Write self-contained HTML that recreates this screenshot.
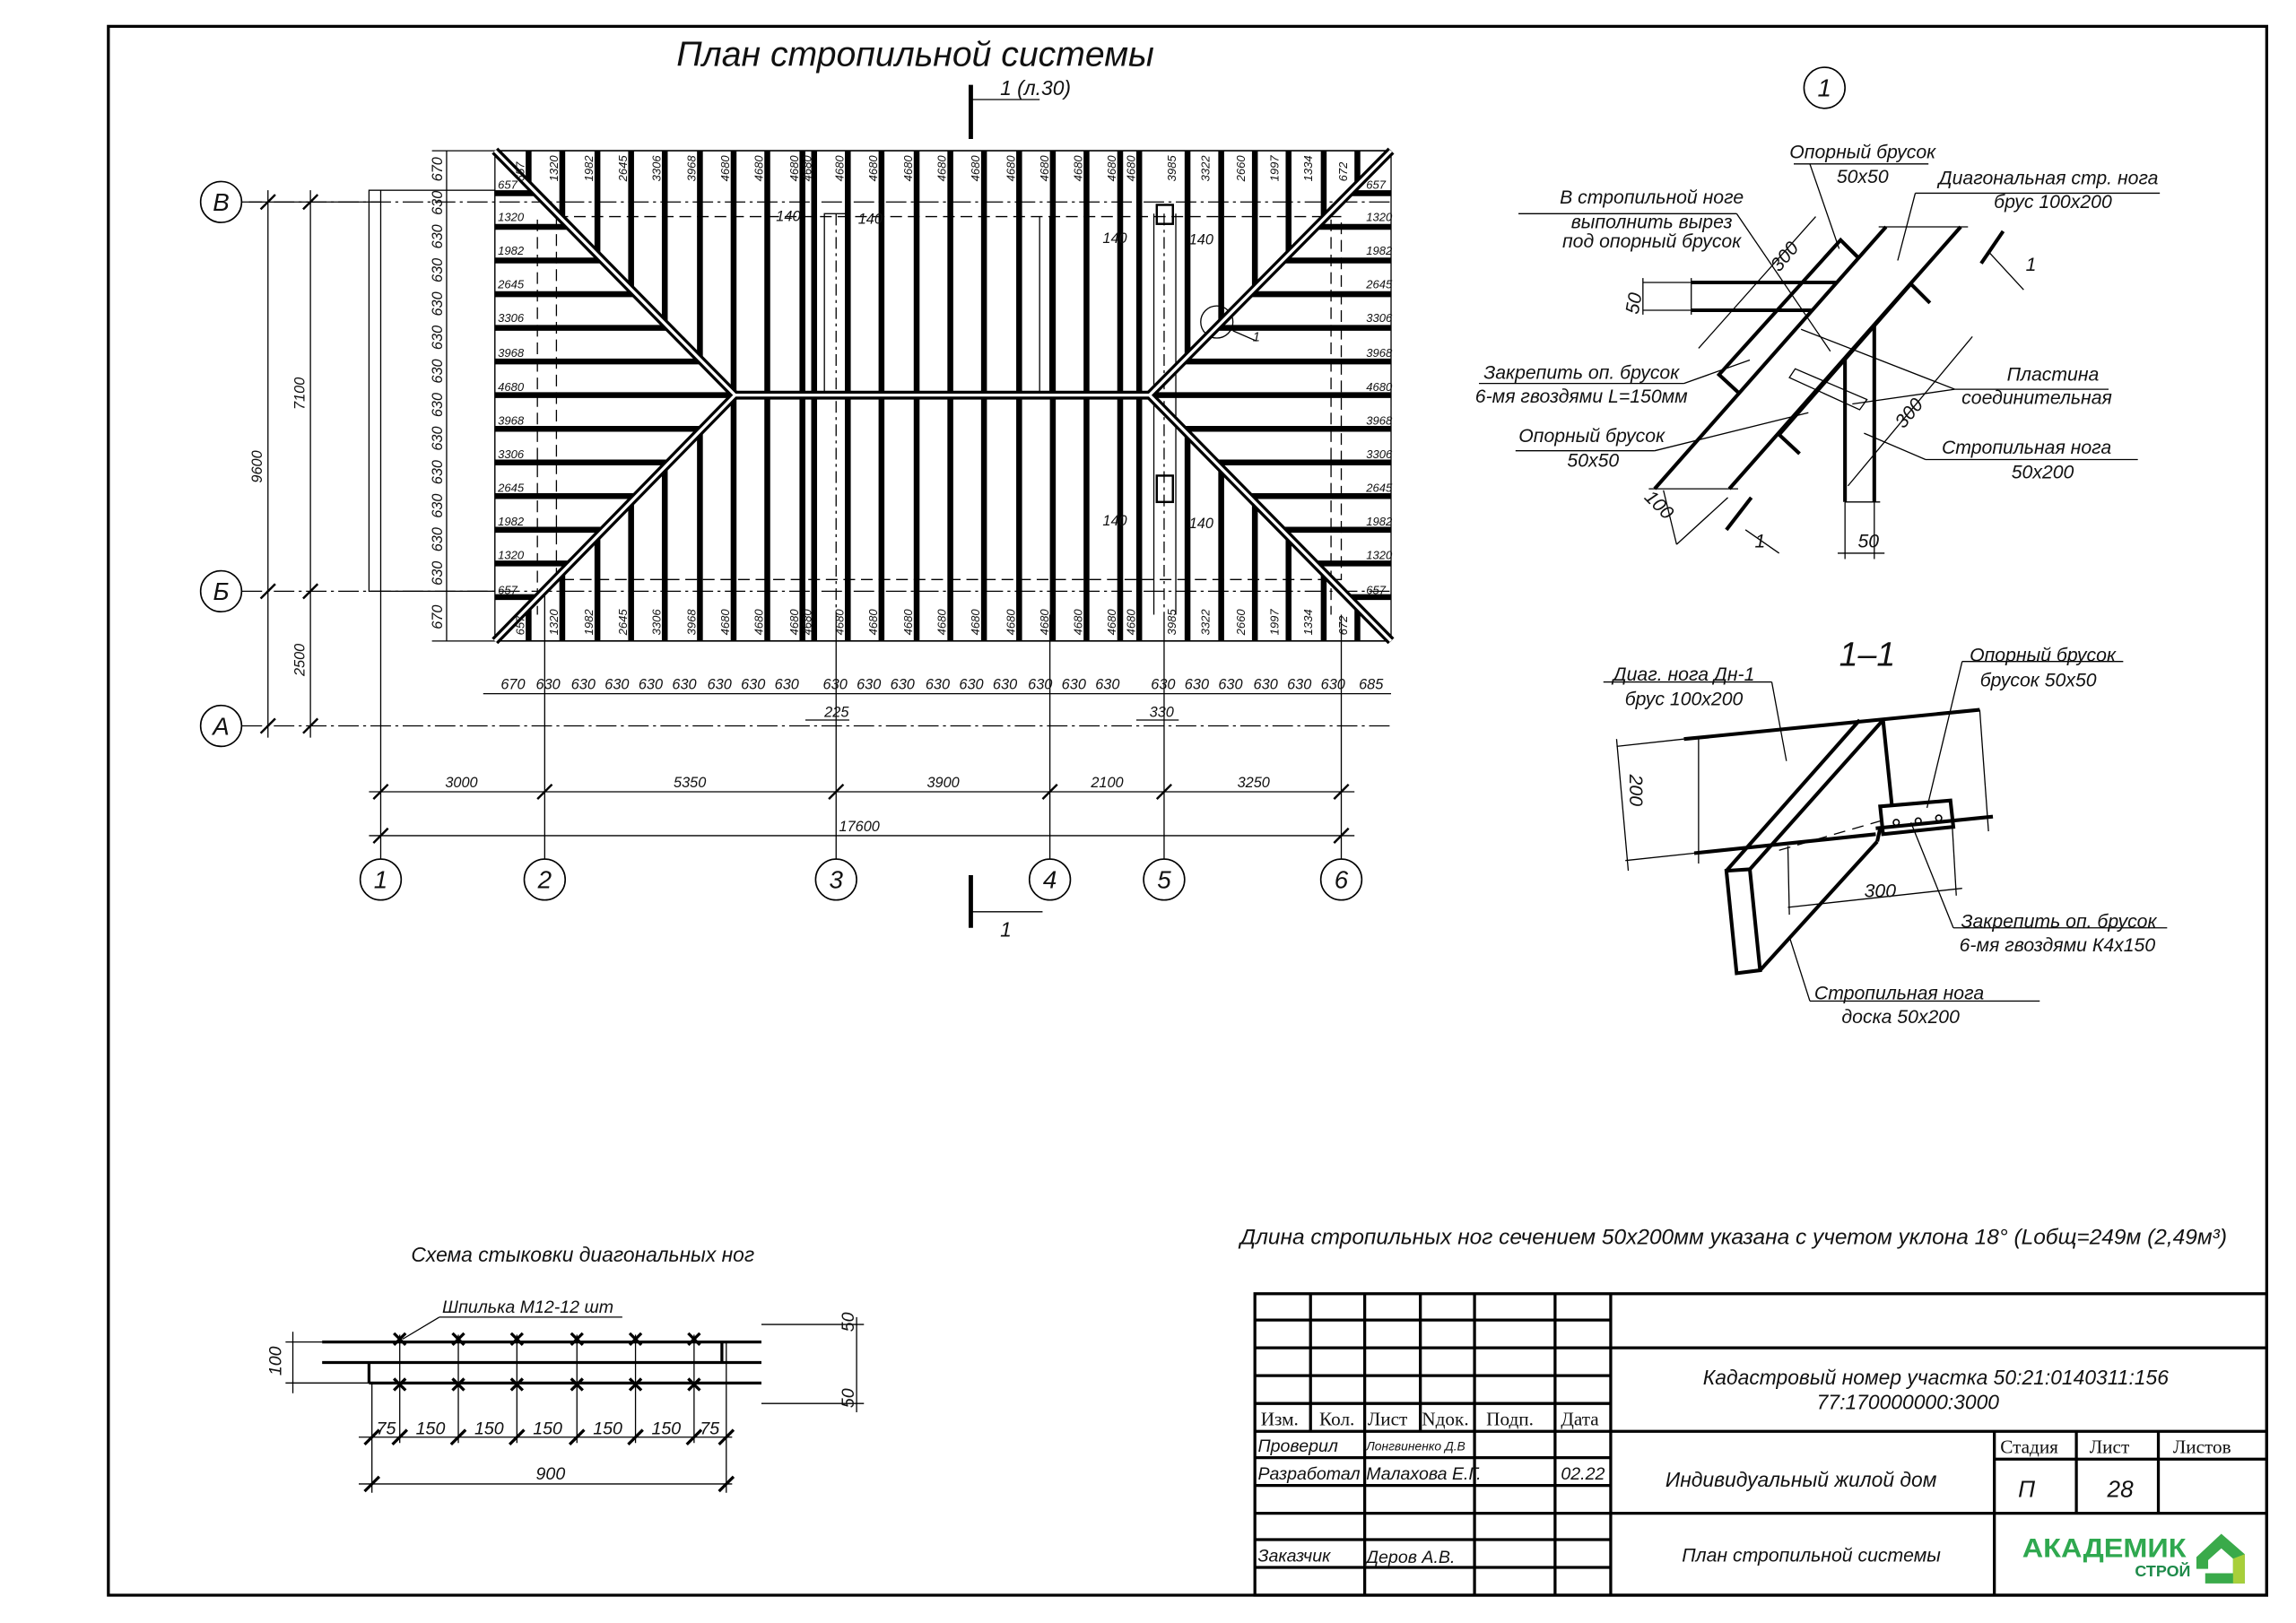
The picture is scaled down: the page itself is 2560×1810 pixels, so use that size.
<!DOCTYPE html>
<html><head><meta charset="utf-8"><style>
html,body{margin:0;padding:0;background:#fff}
svg{display:block}
text{font-family:"Liberation Sans","DejaVu Sans",sans-serif;font-style:italic;fill:#111}
.t{font-style:normal;font-family:"Liberation Serif",serif}
</style></head><body>
<svg width="2560" height="1810" viewBox="0 0 1568 1109" preserveAspectRatio="none" xmlns="http://www.w3.org/2000/svg">
<rect x="0" y="0" width="1568" height="1109" fill="#fff"/>
<rect x="74" y="18" width="1474" height="1072" fill="none" stroke="#000" stroke-width="2"/>
<text x="462" y="45" font-size="24">План стропильной системы</text>

<line x1="663" y1="58" x2="663" y2="95" stroke="#000" stroke-width="3"/>
<line x1="663" y1="68" x2="710" y2="68" stroke="#000" stroke-width="0.8"/>
<text x="683" y="65" font-size="14">1 (л.30)</text>
<line x1="663" y1="598" x2="663" y2="634" stroke="#000" stroke-width="3"/>
<line x1="663" y1="623" x2="712" y2="623" stroke="#000" stroke-width="0.8"/>
<text x="683" y="640" font-size="14">1</text>

<g stroke="#000" stroke-width="0.8" fill="none">
<line x1="165" y1="138" x2="950" y2="138" stroke-dasharray="14 3 2 3"/>
<line x1="165" y1="404" x2="950" y2="404" stroke-dasharray="14 3 2 3"/>
<line x1="165" y1="496" x2="950" y2="496" stroke-dasharray="14 3 2 3"/>
<line x1="260" y1="130" x2="260" y2="587"/>
<line x1="372" y1="400" x2="372" y2="587"/>
<line x1="571" y1="420" x2="571" y2="587"/>
<line x1="717" y1="420" x2="717" y2="587"/>
<line x1="795" y1="420" x2="795" y2="587"/>
<line x1="916" y1="420" x2="916" y2="587"/>
<rect x="252" y="130" width="86" height="274"/>
<rect x="380" y="148" width="536" height="248" stroke-dasharray="8 4"/>
<line x1="367" y1="150" x2="367" y2="420" stroke-dasharray="8 4"/>
<line x1="909" y1="150" x2="909" y2="420" stroke-dasharray="8 4"/>
<rect x="563" y="146" width="16" height="125"/>
<line x1="571" y1="146" x2="571" y2="420" stroke-dasharray="8 3 2 3"/>
<line x1="795" y1="146" x2="795" y2="420" stroke-dasharray="8 3 2 3"/>
<line x1="788" y1="146" x2="788" y2="420"/>
<line x1="803" y1="146" x2="803" y2="420"/>
<line x1="710" y1="148" x2="710" y2="270"/>
<line x1="717" y1="148" x2="717" y2="270"/>
<rect x="790" y="140" width="11" height="13" stroke-width="1.5"/>
<rect x="790" y="325" width="11" height="18" stroke-width="1.5"/>
<circle cx="831" cy="220" r="11"/>
<line x1="842" y1="226" x2="858" y2="233"/>
<line x1="183" y1="130" x2="183" y2="504"/>
<line x1="212" y1="130" x2="212" y2="504"/>
<line x1="170" y1="138" x2="260" y2="138"/>
<line x1="305" y1="103" x2="305" y2="438"/>
<line x1="295" y1="103" x2="338" y2="103"/>
<line x1="295" y1="438" x2="338" y2="438"/>
<line x1="330" y1="474" x2="950" y2="474"/>
<line x1="252" y1="541" x2="925" y2="541"/>
<line x1="252" y1="571" x2="925" y2="571"/>
<line x1="550" y1="492" x2="580" y2="492"/>
<line x1="776" y1="492" x2="805" y2="492"/>
</g>
<g stroke="#000" stroke-width="1.5">
<line x1="178" y1="143" x2="188" y2="133"/><line x1="178" y1="409" x2="188" y2="399"/><line x1="178" y1="501" x2="188" y2="491"/>
<line x1="207" y1="143" x2="217" y2="133"/><line x1="207" y1="409" x2="217" y2="399"/><line x1="207" y1="501" x2="217" y2="491"/>
<line x1="255" y1="546" x2="265" y2="536"/><line x1="367" y1="546" x2="377" y2="536"/><line x1="566" y1="546" x2="576" y2="536"/><line x1="712" y1="546" x2="722" y2="536"/><line x1="790" y1="546" x2="800" y2="536"/><line x1="911" y1="546" x2="921" y2="536"/>
<line x1="255" y1="576" x2="265" y2="566"/><line x1="911" y1="576" x2="921" y2="566"/>
</g>
<g font-size="10">
<text transform="translate(179,330) rotate(-90)">9600</text>
<text transform="translate(208,280) rotate(-90)">7100</text>
<text transform="translate(208,462) rotate(-90)">2500</text>
<text x="304" y="538">3000</text><text x="460" y="538">5350</text><text x="633" y="538">3900</text><text x="745" y="538">2100</text><text x="845" y="538">3250</text>
<text x="573" y="568">17600</text>
<text x="563" y="490">225</text><text x="785" y="490">330</text>
</g>
<g fill="#fff" stroke="#000" stroke-width="1">
<circle cx="151" cy="138" r="14"/><circle cx="151" cy="404" r="14"/><circle cx="151" cy="496" r="14"/>
<circle cx="260" cy="601" r="14"/><circle cx="372" cy="601" r="14"/><circle cx="571" cy="601" r="14"/><circle cx="717" cy="601" r="14"/><circle cx="795" cy="601" r="14"/><circle cx="916" cy="601" r="14"/>
<circle cx="1246" cy="60" r="14"/>
</g>
<g font-size="17" text-anchor="middle">
<text x="151" y="144">В</text><text x="151" y="410">Б</text><text x="151" y="502">А</text>
<text x="260" y="607">1</text><text x="372" y="607">2</text><text x="571" y="607">3</text><text x="717" y="607">4</text><text x="795" y="607">5</text><text x="916" y="607">6</text>
<text x="1246" y="66">1</text>
</g>

<g stroke="#000" fill="none">
<line x1="338" y1="103" x2="950" y2="103" stroke-width="1"/>
<line x1="338" y1="438" x2="950" y2="438" stroke-width="1"/>
<line x1="338" y1="103" x2="338" y2="438" stroke-width="0.8"/>
<line x1="950" y1="103" x2="950" y2="438" stroke-width="0.8"/>
<g stroke-width="4">
<line x1="338" y1="270" x2="950" y2="270"/>
<line x1="361" y1="103" x2="361" y2="126"/><line x1="361" y1="415" x2="361" y2="438"/>
<line x1="384" y1="103" x2="384" y2="150"/><line x1="384" y1="391" x2="384" y2="438"/>
<line x1="408" y1="103" x2="408" y2="174"/><line x1="408" y1="367" x2="408" y2="438"/>
<line x1="431" y1="103" x2="431" y2="198"/><line x1="431" y1="343" x2="431" y2="438"/>
<line x1="454" y1="103" x2="454" y2="221"/><line x1="454" y1="320" x2="454" y2="438"/>
<line x1="478" y1="103" x2="478" y2="246"/><line x1="478" y1="295" x2="478" y2="438"/>
<line x1="927" y1="103" x2="927" y2="126"/><line x1="927" y1="415" x2="927" y2="438"/>
<line x1="904" y1="103" x2="904" y2="150"/><line x1="904" y1="391" x2="904" y2="438"/>
<line x1="880" y1="103" x2="880" y2="174"/><line x1="880" y1="367" x2="880" y2="438"/>
<line x1="857" y1="103" x2="857" y2="198"/><line x1="857" y1="343" x2="857" y2="438"/>
<line x1="834" y1="103" x2="834" y2="221"/><line x1="834" y1="320" x2="834" y2="438"/>
<line x1="811" y1="103" x2="811" y2="245"/><line x1="811" y1="296" x2="811" y2="438"/>
<line x1="501" y1="103" x2="501" y2="438"/><line x1="524" y1="103" x2="524" y2="438"/><line x1="548" y1="103" x2="548" y2="438"/><line x1="556" y1="103" x2="556" y2="438"/>
<line x1="579" y1="103" x2="579" y2="438"/><line x1="602" y1="103" x2="602" y2="438"/><line x1="626" y1="103" x2="626" y2="438"/><line x1="649" y1="103" x2="649" y2="438"/>
<line x1="672" y1="103" x2="672" y2="438"/><line x1="696" y1="103" x2="696" y2="438"/><line x1="719" y1="103" x2="719" y2="438"/><line x1="742" y1="103" x2="742" y2="438"/>
<line x1="765" y1="103" x2="765" y2="438"/><line x1="778" y1="103" x2="778" y2="438"/>
<line x1="338" y1="132" x2="366" y2="132"/><line x1="338" y1="155" x2="389" y2="155"/><line x1="338" y1="178" x2="412" y2="178"/><line x1="338" y1="201" x2="434" y2="201"/><line x1="338" y1="224" x2="457" y2="224"/><line x1="338" y1="247" x2="479" y2="247"/>
<line x1="338" y1="293" x2="480" y2="293"/><line x1="338" y1="316" x2="458" y2="316"/><line x1="338" y1="339" x2="435" y2="339"/><line x1="338" y1="362" x2="413" y2="362"/><line x1="338" y1="385" x2="390" y2="385"/><line x1="338" y1="408" x2="367" y2="408"/>
<line x1="922" y1="132" x2="950" y2="132"/><line x1="899" y1="155" x2="950" y2="155"/><line x1="876" y1="178" x2="950" y2="178"/><line x1="854" y1="201" x2="950" y2="201"/><line x1="831" y1="224" x2="950" y2="224"/><line x1="809" y1="247" x2="950" y2="247"/>
<line x1="808" y1="293" x2="950" y2="293"/><line x1="830" y1="316" x2="950" y2="316"/><line x1="853" y1="339" x2="950" y2="339"/><line x1="875" y1="362" x2="950" y2="362"/><line x1="898" y1="385" x2="950" y2="385"/><line x1="921" y1="408" x2="950" y2="408"/>
</g>
<g stroke-width="6"><polyline points="338,103 502,270 338,438"/><polyline points="950,103 785,270 950,438"/><line x1="502" y1="270" x2="785" y2="270"/></g>
<g stroke="#fff" stroke-width="2"><polyline points="338,103 502,270 338,438"/><polyline points="950,103 785,270 950,438"/><line x1="502" y1="270" x2="785" y2="270"/></g>
</g>
<g font-size="8">
<text x="340" y="129">657</text><text x="340" y="151">1320</text><text x="340" y="174">1982</text><text x="340" y="197">2645</text><text x="340" y="220">3306</text><text x="340" y="244">3968</text><text x="340" y="267">4680</text><text x="340" y="290">3968</text><text x="340" y="313">3306</text><text x="340" y="336">2645</text><text x="340" y="359">1982</text><text x="340" y="382">1320</text><text x="340" y="406">657</text>
<text x="933" y="129">657</text><text x="933" y="151">1320</text><text x="933" y="174">1982</text><text x="933" y="197">2645</text><text x="933" y="220">3306</text><text x="933" y="244">3968</text><text x="933" y="267">4680</text><text x="933" y="290">3968</text><text x="933" y="313">3306</text><text x="933" y="336">2645</text><text x="933" y="359">1982</text><text x="933" y="382">1320</text><text x="933" y="406">657</text>
</g>
<g font-size="8">
<text transform="translate(358,124) rotate(-90)">657</text><text transform="translate(381,124) rotate(-90)">1320</text><text transform="translate(405,124) rotate(-90)">1982</text><text transform="translate(428,124) rotate(-90)">2645</text><text transform="translate(451,124) rotate(-90)">3306</text><text transform="translate(475,124) rotate(-90)">3968</text><text transform="translate(498,124) rotate(-90)">4680</text><text transform="translate(521,124) rotate(-90)">4680</text><text transform="translate(545,124) rotate(-90)">4680</text><text transform="translate(554,124) rotate(-90)">4680</text><text transform="translate(576,124) rotate(-90)">4680</text><text transform="translate(599,124) rotate(-90)">4680</text><text transform="translate(623,124) rotate(-90)">4680</text><text transform="translate(646,124) rotate(-90)">4680</text><text transform="translate(669,124) rotate(-90)">4680</text><text transform="translate(693,124) rotate(-90)">4680</text><text transform="translate(716,124) rotate(-90)">4680</text><text transform="translate(739,124) rotate(-90)">4680</text><text transform="translate(762,124) rotate(-90)">4680</text><text transform="translate(775,124) rotate(-90)">4680</text><text transform="translate(803,124) rotate(-90)">3985</text><text transform="translate(826,124) rotate(-90)">3322</text><text transform="translate(850,124) rotate(-90)">2660</text><text transform="translate(873,124) rotate(-90)">1997</text><text transform="translate(896,124) rotate(-90)">1334</text><text transform="translate(920,124) rotate(-90)">672</text>
<text transform="translate(358,434) rotate(-90)">657</text><text transform="translate(381,434) rotate(-90)">1320</text><text transform="translate(405,434) rotate(-90)">1982</text><text transform="translate(428,434) rotate(-90)">2645</text><text transform="translate(451,434) rotate(-90)">3306</text><text transform="translate(475,434) rotate(-90)">3968</text><text transform="translate(498,434) rotate(-90)">4680</text><text transform="translate(521,434) rotate(-90)">4680</text><text transform="translate(545,434) rotate(-90)">4680</text><text transform="translate(554,434) rotate(-90)">4680</text><text transform="translate(576,434) rotate(-90)">4680</text><text transform="translate(599,434) rotate(-90)">4680</text><text transform="translate(623,434) rotate(-90)">4680</text><text transform="translate(646,434) rotate(-90)">4680</text><text transform="translate(669,434) rotate(-90)">4680</text><text transform="translate(693,434) rotate(-90)">4680</text><text transform="translate(716,434) rotate(-90)">4680</text><text transform="translate(739,434) rotate(-90)">4680</text><text transform="translate(762,434) rotate(-90)">4680</text><text transform="translate(775,434) rotate(-90)">4680</text><text transform="translate(803,434) rotate(-90)">3985</text><text transform="translate(826,434) rotate(-90)">3322</text><text transform="translate(850,434) rotate(-90)">2660</text><text transform="translate(873,434) rotate(-90)">1997</text><text transform="translate(896,434) rotate(-90)">1334</text><text transform="translate(920,434) rotate(-90)">672</text>
</g>
<g font-size="10">
<text transform="translate(302,124) rotate(-90)">670</text><text transform="translate(302,147) rotate(-90)">630</text><text transform="translate(302,170) rotate(-90)">630</text><text transform="translate(302,193) rotate(-90)">630</text><text transform="translate(302,216) rotate(-90)">630</text><text transform="translate(302,239) rotate(-90)">630</text><text transform="translate(302,262) rotate(-90)">630</text><text transform="translate(302,285) rotate(-90)">630</text><text transform="translate(302,308) rotate(-90)">630</text><text transform="translate(302,331) rotate(-90)">630</text><text transform="translate(302,354) rotate(-90)">630</text><text transform="translate(302,377) rotate(-90)">630</text><text transform="translate(302,400) rotate(-90)">630</text><text transform="translate(302,430) rotate(-90)">670</text>
<text x="342" y="471">670</text><text x="366" y="471">630</text><text x="390" y="471">630</text><text x="413" y="471">630</text><text x="436" y="471">630</text><text x="459" y="471">630</text><text x="483" y="471">630</text><text x="506" y="471">630</text><text x="529" y="471">630</text><text x="562" y="471">630</text><text x="585" y="471">630</text><text x="608" y="471">630</text><text x="632" y="471">630</text><text x="655" y="471">630</text><text x="678" y="471">630</text><text x="702" y="471">630</text><text x="725" y="471">630</text><text x="748" y="471">630</text><text x="786" y="471">630</text><text x="809" y="471">630</text><text x="832" y="471">630</text><text x="856" y="471">630</text><text x="879" y="471">630</text><text x="902" y="471">630</text><text x="928" y="471">685</text>
<text x="530" y="151">140</text><text x="586" y="153">140</text><text x="753" y="166">140</text><text x="812" y="167">140</text><text x="753" y="359">140</text><text x="812" y="361">140</text>
</g>

<g stroke="#000" fill="none">
<g stroke-width="2.5">
<line x1="1130" y1="334" x2="1288" y2="155"/><line x1="1181" y1="334" x2="1339" y2="155"/>
<polyline points="1269,176 1257,164 1174,256 1188,269"/>
<polyline points="1318,207 1305,194 1215,297 1229,310"/>
<line x1="1155" y1="193" x2="1255" y2="193"/><line x1="1155" y1="212" x2="1238" y2="212"/>
<line x1="1260" y1="245" x2="1260" y2="343"/><line x1="1280" y1="223" x2="1280" y2="343"/>
<line x1="1353" y1="180" x2="1368" y2="158"/><line x1="1179" y1="362" x2="1196" y2="340"/>
</g>
<g stroke-width="0.8">
<line x1="1283" y1="155" x2="1344" y2="155"/><line x1="1126" y1="334" x2="1187" y2="334"/>
<line x1="1155" y1="190" x2="1155" y2="215"/><line x1="1260" y1="343" x2="1284" y2="343"/>
<line x1="1240" y1="148" x2="1160" y2="238"/><line x1="1347" y1="230" x2="1262" y2="332"/>
<line x1="1122" y1="190" x2="1122" y2="215"/><line x1="1122" y1="193" x2="1155" y2="193"/><line x1="1122" y1="212" x2="1155" y2="212"/>
<line x1="1136" y1="335" x2="1145" y2="372"/><line x1="1180" y1="340" x2="1145" y2="372"/>
<line x1="1260" y1="343" x2="1260" y2="382"/><line x1="1280" y1="343" x2="1280" y2="382"/><line x1="1255" y1="378" x2="1287" y2="378"/>
<line x1="1037" y1="146" x2="1186" y2="146"/><line x1="1186" y1="146" x2="1250" y2="240"/>
<line x1="1225" y1="112" x2="1317" y2="112"/><line x1="1236" y1="112" x2="1256" y2="170"/>
<line x1="1308" y1="132" x2="1475" y2="132"/><line x1="1308" y1="132" x2="1296" y2="178"/>
<line x1="1010" y1="262" x2="1150" y2="262"/><line x1="1150" y1="262" x2="1195" y2="246"/>
<line x1="1035" y1="308" x2="1130" y2="308"/><line x1="1130" y1="308" x2="1235" y2="282"/>
<line x1="1335" y1="266" x2="1440" y2="266"/><line x1="1335" y1="266" x2="1230" y2="225"/><line x1="1335" y1="266" x2="1265" y2="276"/>
<line x1="1315" y1="314" x2="1460" y2="314"/><line x1="1315" y1="314" x2="1273" y2="296"/>
<line x1="1358" y1="172" x2="1382" y2="198"/><line x1="1192" y1="362" x2="1215" y2="378"/>
</g>
<polygon points="1222,258 1226,252 1275,273 1270,280" stroke-width="0.8"/>
</g>
<g font-size="13" text-anchor="middle">
<text x="1272" y="108">Опорный брусок</text><text x="1272" y="125">50х50</text>
<text x="1399" y="126">Диагональная стр. нога</text><text x="1402" y="142">брус 100х200</text>
<text x="1128" y="139">В стропильной ноге</text><text x="1128" y="156">выполнить вырез</text><text x="1128" y="169">под опорный брусок</text>
<text x="1080" y="259">Закрепить оп. брусок</text><text x="1080" y="275">6-мя гвоздями L=150мм</text>
<text x="1087" y="302">Опорный брусок</text><text x="1088" y="319">50х50</text>
<text x="1402" y="260">Пластина</text><text x="1391" y="276">соединительная</text>
<text x="1384" y="310">Стропильная нога</text><text x="1395" y="327">50х200</text>
<text transform="translate(1222,178) rotate(-50)">300</text><text transform="translate(1307,285) rotate(-50)">300</text>
<text transform="translate(1120,208) rotate(-80)">50</text><text transform="translate(1130,348) rotate(45)">100</text><text x="1276" y="374">50</text>
<text x="1387" y="185">1</text><text x="1202" y="374">1</text><text x="858" y="233" font-size="9">1</text>
</g>

<text x="1256" y="455" font-size="23">1–1</text>
<g stroke="#000" fill="none">
<g stroke-width="2.5">
<line x1="1150" y1="505" x2="1352" y2="485"/>
<line x1="1157" y1="583" x2="1281" y2="570"/><line x1="1281" y1="566" x2="1361" y2="558"/>
<line x1="1179" y1="595" x2="1270" y2="492"/><line x1="1195" y1="594" x2="1286" y2="492"/>
<line x1="1286" y1="492" x2="1292" y2="550"/>
<polygon points="1284,551 1332,547 1334,565 1286,570"/>
<polygon points="1179,595 1195,594 1202,663 1186,665"/>
<line x1="1202" y1="663" x2="1282" y2="575"/><line x1="1282" y1="575" x2="1284" y2="566"/>
</g>
<g stroke-width="0.8">
<line x1="1104" y1="510" x2="1150" y2="505"/><line x1="1110" y1="588" x2="1157" y2="583"/>
<line x1="1104" y1="505" x2="1112" y2="595"/>
<line x1="1221" y1="620" x2="1340" y2="607"/><line x1="1221" y1="578" x2="1222" y2="625"/><line x1="1333" y1="560" x2="1336" y2="612"/>
<line x1="1160" y1="505" x2="1160" y2="590"/><line x1="1352" y1="485" x2="1358" y2="568"/>
<line x1="1095" y1="466" x2="1210" y2="466"/><line x1="1210" y1="466" x2="1220" y2="520"/>
<line x1="1340" y1="452" x2="1450" y2="452"/><line x1="1340" y1="452" x2="1316" y2="552"/>
<line x1="1334" y1="634" x2="1480" y2="634"/><line x1="1334" y1="634" x2="1305" y2="562"/>
<line x1="1236" y1="684" x2="1393" y2="684"/><line x1="1236" y1="684" x2="1222" y2="640"/>
<line x1="1215" y1="581" x2="1284" y2="561" stroke-dasharray="8 5"/>
</g>
<g stroke-width="1"><circle cx="1295" cy="562" r="2"/><circle cx="1310" cy="561" r="2"/><circle cx="1324" cy="559" r="2"/></g>
</g>
<g font-size="13" text-anchor="middle">
<text x="1150" y="465">Диаг. нога Дн-1</text><text x="1150" y="482">брус 100х200</text>
<text x="1395" y="452">Опорный брусок</text><text x="1392" y="469">брусок 50х50</text>
<text x="1406" y="634">Закрепить оп. брусок</text><text x="1405" y="650">6-мя гвоздями К4х150</text>
<text x="1297" y="683">Стропильная нога</text><text x="1298" y="699">доска 50х200</text>
<text x="1284" y="613">300</text><text transform="translate(1113,540) rotate(90)">200</text>
</g>

<text x="398" y="862" font-size="14" text-anchor="middle">Схема стыковки диагональных ног</text>
<g stroke="#000" fill="none">
<g stroke-width="2"><line x1="220" y1="917" x2="520" y2="917"/><line x1="220" y1="931" x2="520" y2="931"/><line x1="252" y1="945" x2="520" y2="945"/><line x1="252" y1="931" x2="252" y2="945"/><line x1="493" y1="917" x2="493" y2="931"/></g>
<g stroke-width="0.8"><line x1="195" y1="917" x2="220" y2="917"/><line x1="195" y1="945" x2="252" y2="945"/><line x1="200" y1="910" x2="200" y2="952"/>
<line x1="520" y1="905" x2="590" y2="905"/><line x1="520" y1="959" x2="590" y2="959"/><line x1="585" y1="900" x2="585" y2="965"/>
<line x1="245" y1="982" x2="500" y2="982"/><line x1="245" y1="1014" x2="500" y2="1014"/>
<line x1="254" y1="945" x2="254" y2="1020"/><line x1="496" y1="917" x2="496" y2="1020"/>
<line x1="300" y1="900" x2="425" y2="900"/><line x1="300" y1="900" x2="275" y2="915"/>
<line x1="273" y1="912" x2="273" y2="986"/><line x1="313" y1="912" x2="313" y2="986"/><line x1="353" y1="912" x2="353" y2="986"/><line x1="394" y1="912" x2="394" y2="986"/><line x1="434" y1="912" x2="434" y2="986"/><line x1="474" y1="912" x2="474" y2="986"/></g>
<g stroke-width="2">
<path d="M269,911l8,8M277,911l-8,8M309,911l8,8M317,911l-8,8M349,911l8,8M357,911l-8,8M390,911l8,8M398,911l-8,8M430,911l8,8M438,911l-8,8M470,911l8,8M478,911l-8,8"/>
<path d="M269,942l8,8M277,942l-8,8M309,942l8,8M317,942l-8,8M349,942l8,8M357,942l-8,8M390,942l8,8M398,942l-8,8M430,942l8,8M438,942l-8,8M470,942l8,8M478,942l-8,8"/>
<path d="M249,987l10,-10M268,987l10,-10M308,987l10,-10M348,987l10,-10M389,987l10,-10M429,987l10,-10M469,987l10,-10M491,987l10,-10M249,1019l10,-10M491,1019l10,-10"/>
</g></g>
<g font-size="12">
<text x="302" y="897">Шпилька М12-12 шт</text>
<text x="257" y="980">75</text><text x="284" y="980">150</text><text x="324" y="980">150</text><text x="364" y="980">150</text><text x="405" y="980">150</text><text x="445" y="980">150</text><text x="478" y="980">75</text>
<text x="366" y="1011">900</text>
<text transform="translate(192,940) rotate(-90)">100</text>
<text transform="translate(583,910) rotate(-90)">50</text><text transform="translate(583,962) rotate(-90)">50</text>
</g>

<text x="847" y="850" font-size="15">Длина стропильных ног сечением 50х200мм указана с учетом уклона 18° (Lобщ=249м (2,49м³)</text>

<g stroke="#000" stroke-width="2" fill="none">
<rect x="857" y="884" width="691" height="206"/>
<line x1="895" y1="884" x2="895" y2="978"/><line x1="932" y1="884" x2="932" y2="1090"/><line x1="970" y1="884" x2="970" y2="978"/><line x1="1007" y1="884" x2="1007" y2="1090"/><line x1="1062" y1="884" x2="1062" y2="1090"/><line x1="1100" y1="884" x2="1100" y2="1090"/>
<line x1="857" y1="902" x2="1100" y2="902"/><line x1="857" y1="921" x2="1548" y2="921"/><line x1="857" y1="940" x2="1100" y2="940"/><line x1="857" y1="959" x2="1100" y2="959"/><line x1="857" y1="978" x2="1548" y2="978"/>
<line x1="857" y1="996" x2="1100" y2="996"/><line x1="857" y1="1015" x2="1100" y2="1015"/><line x1="857" y1="1034" x2="1548" y2="1034"/><line x1="857" y1="1052" x2="1100" y2="1052"/><line x1="857" y1="1071" x2="1100" y2="1071"/>
<line x1="1362" y1="978" x2="1362" y2="1090"/><line x1="1418" y1="978" x2="1418" y2="1034"/><line x1="1474" y1="978" x2="1474" y2="1034"/><line x1="1362" y1="997" x2="1548" y2="997"/>
</g>
<g font-size="13" class="t">
<text class="t" x="861" y="974">Изм.</text><text class="t" x="901" y="974">Кол.</text><text class="t" x="934" y="974">Лист</text><text class="t" x="971" y="974">Nдок.</text><text class="t" x="1015" y="974">Подп.</text><text class="t" x="1066" y="974">Дата</text>
<text class="t" x="1366" y="993">Стадия</text><text class="t" x="1427" y="993">Лист</text><text class="t" x="1484" y="993">Листов</text>
</g>
<g font-size="12">
<text x="859" y="992">Проверил</text><text x="933" y="991" font-size="8.5">Лонгвиненко Д.В</text>
<text x="859" y="1011">Разработал</text><text x="933" y="1011">Малахова Е.Г.</text><text x="1066" y="1011">02.22</text>
<text x="859" y="1067">Заказчик</text><text x="933" y="1068">Деров А.В.</text>
</g>
<g font-size="14" text-anchor="middle">
<text x="1322" y="946">Кадастровый номер участка 50:21:0140311:156</text>
<text x="1303" y="963">77:170000000:3000</text>
<text x="1230" y="1016">Индивидуальный жилой дом</text>
<text x="1237" y="1067" font-size="13">План стропильной системы</text>
<text x="1384" y="1023" font-size="16">П</text><text x="1448" y="1023" font-size="16">28</text>
</g>
<text x="1381" y="1064" font-size="18" font-weight="bold" style="font-style:normal;fill:#2fa84f" textLength="112" lengthAdjust="spacingAndGlyphs">АКАДЕМИК</text>
<text x="1458" y="1077" font-size="11" font-weight="bold" style="font-style:normal;fill:#1e8a4a">СТРОЙ</text>
<path d="M1500,1064 L1517,1048 L1533,1062 L1533,1082 L1506,1082 L1506,1075 L1525,1075 L1525,1065 L1517,1058 L1508,1066 L1508,1072 L1500,1072 Z" fill="#3aaa4a"/>
<path d="M1525,1065 L1533,1062 L1533,1082 L1525,1082 Z" fill="#a8cf3a"/>
</svg>
</body></html>
